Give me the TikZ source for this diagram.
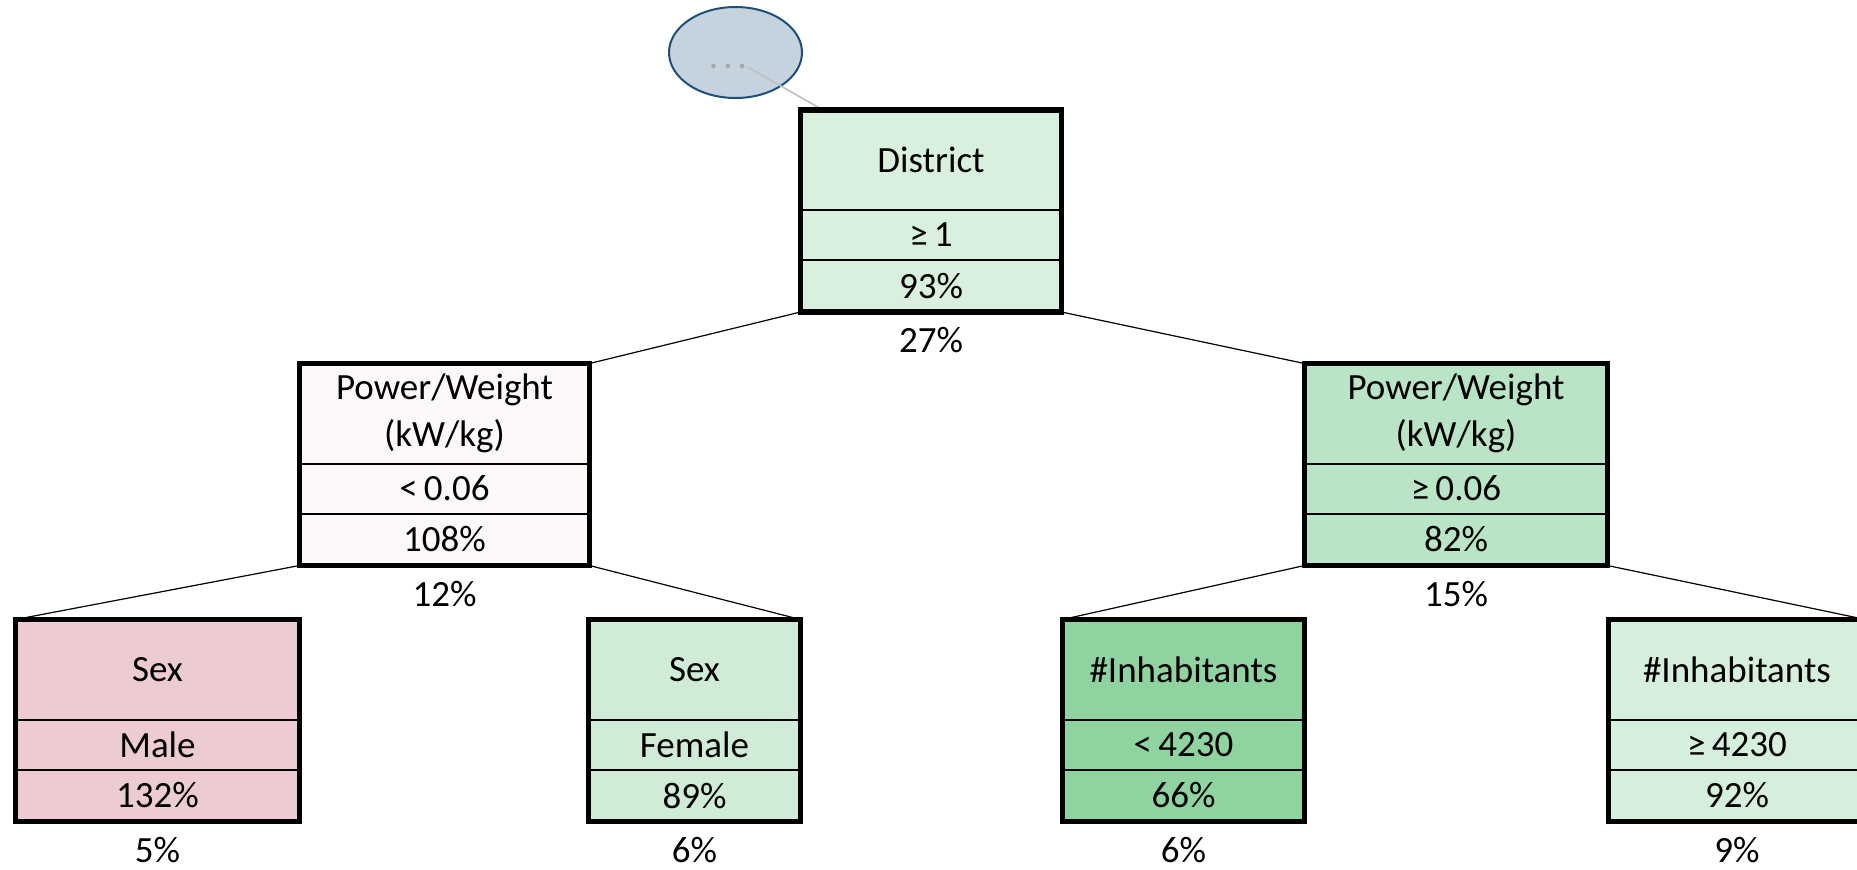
\documentclass[tikz,border=0pt]{standalone}
\usepackage{fontspec}
\setmainfont{Carlito}
\usepackage{tikz}
\usetikzlibrary{positioning,shapes.geometric}
\definecolor{distgreen}{RGB}{218,240,223}
\definecolor{lowpink}{RGB}{253,248,250}
\definecolor{highgreen}{RGB}{185,229,198}
\definecolor{malepink}{RGB}{236,203,211}
\definecolor{femgreen}{RGB}{208,236,215}
\definecolor{smallgreen}{RGB}{143,212,160}
\definecolor{biggreen}{RGB}{214,239,220}
\definecolor{rootfill}{RGB}{197,211,223}
\definecolor{rootblue}{RGB}{31,78,121}
\definecolor{dotgray}{RGB}{166,166,166}
\definecolor{feedgray}{RGB}{191,191,191}

\begin{document}
\begin{tikzpicture}[
  x=0.5pt, y=-0.5pt,
  part/.style={rectangle, draw=black, line width=1pt, inner sep=0pt, outer sep=0pt, align=center, font={\fontsize{18.5}{23.5}\selectfont}},
  head/.style={part, minimum height=50pt},
  cond/.style={part, minimum height=25pt},
  pct/.style={part, minimum height=26pt},
  share/.style={inner sep=0pt, font={\fontsize{18.5}{23.5}\selectfont}},
  frame/.style={draw=black, line width=2.6pt},
  link/.style={draw=black, line width=0.6pt},
  feed/.style={draw=feedgray, line width=0.8pt}
]
\useasboundingbox (0,0) rectangle (1857,869);
\clip (0,0) rectangle (1857,869);

% Parent node, cut off
\node[ellipse, draw=rootblue, fill=rootfill, line width=1pt, minimum width=66.5pt, minimum height=45.5pt, inner sep=0pt] (root) at (735.5,52.5) {};
\node[text=dotgray, inner sep=0pt, font={\fontsize{18.5}{23.5}\selectfont}] (more) at (728,67) {.\hspace{2.5pt}.\hspace{2.5pt}.};

% Split on district
\node[head, fill=distgreen, minimum width=130.5pt, anchor=north] (dist) at (931,110) {District};
\node[cond, fill=distgreen, minimum width=130.5pt, below=0pt of dist] (dist-c) {≥\,1};
\node[pct, fill=distgreen, minimum width=130.5pt, below=0pt of dist-c] (dist-p) {93\%};
\node[share, below=14.25pt of dist-p.south, anchor=center] (dist-s) {27\%};

% Split on power/weight
\node[head, fill=lowpink, minimum width=145pt, anchor=north] (lpw) at (444.5,363.5) {Power/Weight\\(kW/kg)};
\node[cond, fill=lowpink, minimum width=145pt, below=0pt of lpw] (lpw-c) {<\,0.06};
\node[pct, fill=lowpink, minimum width=145pt, below=0pt of lpw-c] (lpw-p) {108\%};
\node[share, below=14.25pt of lpw-p.south, anchor=center] (lpw-s) {12\%};

\node[head, fill=highgreen, minimum width=151.5pt, anchor=north] (rpw) at (1456,363.5) {Power/Weight\\(kW/kg)};
\node[cond, fill=highgreen, minimum width=151.5pt, below=0pt of rpw] (rpw-c) {≥\,0.06};
\node[pct, fill=highgreen, minimum width=151.5pt, below=0pt of rpw-c] (rpw-p) {82\%};
\node[share, below=14.25pt of rpw-p.south, anchor=center] (rpw-s) {15\%};

% Leaves
\node[head, fill=malepink, minimum width=142pt, anchor=north] (male) at (157.5,619.5) {Sex};
\node[cond, fill=malepink, minimum width=142pt, below=0pt of male] (male-c) {Male};
\node[pct, fill=malepink, minimum width=142pt, below=0pt of male-c] (male-p) {132\%};
\node[share, below=14.25pt of male-p.south, anchor=center] (male-s) {5\%};

\node[head, fill=femgreen, minimum width=106pt, anchor=north] (fem) at (694.5,619.5) {Sex};
\node[cond, fill=femgreen, minimum width=106pt, below=0pt of fem] (fem-c) {Female};
\node[pct, fill=femgreen, minimum width=106pt, below=0pt of fem-c] (fem-p) {89\%};
\node[share, below=14.25pt of fem-p.south, anchor=center] (fem-s) {6\%};

\node[head, fill=smallgreen, minimum width=121pt, anchor=north] (few) at (1183.5,619.5) {\#Inhabitants};
\node[cond, fill=smallgreen, minimum width=121pt, below=0pt of few] (few-c) {<\,4230};
\node[pct, fill=smallgreen, minimum width=121pt, below=0pt of few-c] (few-p) {66\%};
\node[share, below=14.25pt of few-p.south, anchor=center] (few-s) {6\%};

\node[head, fill=biggreen, minimum width=128.5pt, anchor=north] (many) at (1737,619.5) {\#Inhabitants};
\node[cond, fill=biggreen, minimum width=128.5pt, below=0pt of many] (many-c) {≥\,4230};
\node[pct, fill=biggreen, minimum width=128.5pt, below=0pt of many-c] (many-p) {92\%};
\node[share, below=14.25pt of many-p.south, anchor=center] (many-s) {9\%};

% Branches
\draw[feed] (more.east) -- ([xshift=11.25pt]dist.north west);
\draw[link] (dist-p.south west) -- (lpw.north east);
\draw[link] (dist-p.south east) -- (rpw.north west);
\draw[link] (lpw-p.south west) -- (male.north west);
\draw[link] (lpw-p.south east) -- (fem.north east);
\draw[link] (rpw-p.south west) -- (few.north west);
\draw[link] (rpw-p.south east) -- (many.north east);

% Thick outlines
\draw[frame] (dist.north west) rectangle (dist-p.south east);
\draw[frame] (lpw.north west) rectangle (lpw-p.south east);
\draw[frame] (rpw.north west) rectangle (rpw-p.south east);
\draw[frame] (male.north west) rectangle (male-p.south east);
\draw[frame] (fem.north west) rectangle (fem-p.south east);
\draw[frame] (few.north west) rectangle (few-p.south east);
\draw[frame] (many.north west) rectangle (many-p.south east);

\end{tikzpicture}
\end{document}
